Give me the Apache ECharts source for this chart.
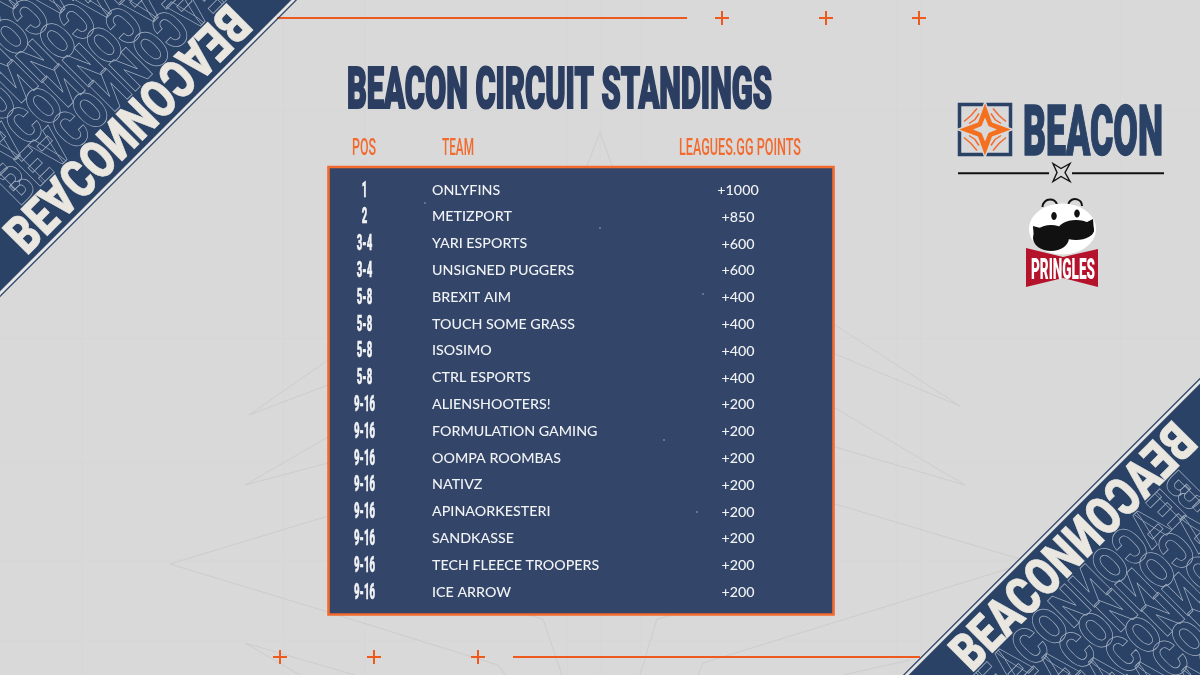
<!DOCTYPE html>
<html>
<head>
<meta charset="utf-8">
<style>html,body{margin:0;padding:0;background:#d9d9d9}#chart{width:1200px;height:675px}</style>
<script src="https://cdn.jsdelivr.net/npm/echarts@6/dist/echarts.min.js"></script>
</head>
<body>
<div id="chart"></div>
<script>
const chartTitle = "BEACON CIRCUIT STANDINGS";
const columnHeaders = ["POS", "TEAM", "LEAGUES.GG POINTS"];
const posLabels = ["1", "2", "3-4", "3-4", "5-8", "5-8", "5-8", "5-8", "9-16", "9-16", "9-16", "9-16", "9-16", "9-16", "9-16", "9-16"];
const teams = ["ONLYFINS", "METIZPORT", "YARI ESPORTS", "UNSIGNED PUGGERS", "BREXIT AIM", "TOUCH SOME GRASS", "ISOSIMO", "CTRL ESPORTS", "ALIENSHOOTERS!", "FORMULATION GAMING", "OOMPA ROOMBAS", "NATIVZ", "APINAORKESTERI", "SANDKASSE", "TECH FLEECE TROOPERS", "ICE ARROW"];
const points = [1000, 850, 600, 600, 400, 400, 400, 400, 200, 200, 200, 200, 200, 200, 200, 200];

const NAVY = "#2a4266";
const PANEL = "#33466a";
const TITLE_NAVY = "#2b3d60";
const ORANGE = "#f26a2e";
const LINE_ORANGE = "#ee5a1e";
const BG = "#d9d9d9";
const FAINT = "#cdcdcd";
const CREAM = "#e9e7e0";
const HEAVY = "Roboto";

// measure text so the condensed display type can be squeezed to width
const measureCtx = document.createElement("canvas").getContext("2d");
function fitScale(text, font, width) {
  measureCtx.font = font;
  return width / measureCtx.measureText(text).width;
}

// midY is the centre of the capitals, "middle" alone sits a bit too high
function fitText(text, left, midY, width, size, family, weight, fill, extra) {
  const scaleX = fitScale(text, `${weight} ${size}px ${family}`, width);
  return {
    type: "text",
    x: left,
    y: midY + size * 0.12,
    scaleX: scaleX,
    style: Object.assign({
      text: text,
      fontFamily: family,
      fontWeight: weight,
      fontSize: size,
      fill: fill,
      align: "left",
      verticalAlign: "middle",
      textAlign: "left",
      textVerticalAlign: "middle"
    }, extra || {})
  };
}

function line(x1, y1, x2, y2, stroke, width) {
  return { type: "line", shape: { x1, y1, x2, y2 }, style: { stroke, lineWidth: width } };
}

function polyline(pts, stroke, width) {
  return { type: "polyline", shape: { points: pts }, style: { stroke, lineWidth: width, fill: "none" } };
}

function plus(cx, cy) {
  return [
    line(cx - 7, cy, cx + 7, cy, LINE_ORANGE, 2),
    line(cx, cy - 7, cx, cy + 7, LINE_ORANGE, 2)
  ];
}

// faint grid and the big compass star behind everything
function backgroundLines() {
  const out = [];
  [82, 283, 365, 567, 600, 640, 896, 921, 1120].forEach(x => out.push(line(x, 0, x, 675, "#d6d6d6", 1)));
  [110, 338, 462, 560, 640].forEach(y => out.push(line(0, y, 1200, y, "#d6d6d6", 1)));
  const star = [
    [[587, 166], [600, 132], [612, 166]],
    [[328, 360], [249, 415], [328, 385]],
    [[328, 437], [245, 485], [328, 463]],
    [[328, 516], [170, 564], [328, 612], [498, 665], [505, 675]],
    [[355, 675], [245, 643], [300, 675]],
    [[835, 325], [960, 406], [835, 354]],
    [[835, 408], [965, 485], [835, 447]],
    [[835, 504], [1030, 562], [703, 663], [698, 675]],
    [[910, 660], [843, 675]],
    [[528, 615], [543, 619], [562, 675]],
    [[673, 615], [657, 619], [640, 675]]
  ];
  star.forEach(pts => out.push(polyline(pts, FAINT, 1)));
  return out;
}

// local x runs along the diagonal, local y away from the grey side
function bannerGroup() {
  const children = [
    { type: "rect", shape: { x: -440, y: 4, width: 460, height: 240 }, style: { fill: NAVY } },
    line(-440, 0.5, 20, 0.5, NAVY, 1.2),
    line(-440, 2.5, 20, 2.5, "#eeeeee", 1)
  ];
  const word = "BEACON";
  const size = 53;
  const w = 161;
  const outline = { fill: "none", stroke: "#a5b1c2", lineWidth: 0.8 };
  const rowsY = [68, 104, 140, 176, 212];
  rowsY.forEach((y, r) => {
    for (let k = -1; k < 2; k++) {
      const start = -400 + r * 30 + k * 350;
      children.push(fitText(word, start, y, w, size, HEAVY, 900, "none", outline));
      const mirrored = fitText(word, start + 2 * w, y, w, size, HEAVY, 900, "none", outline);
      mirrored.scaleX = -mirrored.scaleX;
      children.push(mirrored);
    }
  });
  const bright = { stroke: CREAM, lineWidth: 0.6 };
  [-370, -775, -5].forEach(start => {
    children.push(fitText(word, start, 28, w, size, HEAVY, 900, CREAM, bright));
    const mirrored = fitText(word, start + 2 * w, 28, w, size, HEAVY, 900, CREAM, bright);
    mirrored.scaleX = -mirrored.scaleX;
    children.push(mirrored);
  });
  return { type: "group", x: 1200, y: 378, rotation: Math.PI / 4, children };
}

function beaconLogo() {
  const cx = 985, cy = 129.5;
  const out = [
    { type: "rect", shape: { x: 959.5, y: 104.5, width: 51, height: 50 }, style: { fill: "none", stroke: NAVY, lineWidth: 3.5 } },
    { type: "polygon", shape: { points: [[cx, cy - 30], [cx + 8, cy - 8], [cx + 30, cy], [cx + 8, cy + 8], [cx, cy + 30], [cx - 8, cy + 8], [cx - 30, cy], [cx - 8, cy - 8]] }, style: { fill: BG } }
  ];
  [[-1, -1], [1, -1], [1, 1], [-1, 1]].forEach(([sx, sy]) => {
    out.push(polyline([[cx + sx * 6, cy + sy * 16], [cx + sx * 10, cy + sy * 10], [cx + sx * 16, cy + sy * 6]], "#f26a2e", 1.5));
    out.push(polyline([[cx + sx * 8, cy + sy * 21], [cx + sx * 14, cy + sy * 14], [cx + sx * 21, cy + sy * 8]], "#f26a2e", 1.5));
  });
  out.push({ type: "polygon", shape: { points: [[cx, cy - 26], [cx + 7, cy - 7], [cx + 26, cy], [cx + 7, cy + 7], [cx, cy + 26], [cx - 7, cy + 7], [cx - 26, cy], [cx - 7, cy - 7]] }, style: { fill: "#f4701f" } });
  out.push({ type: "polygon", shape: { points: [[cx, cy - 12], [cx + 3.5, cy - 3.5], [cx + 12, cy], [cx + 3.5, cy + 3.5], [cx, cy + 12], [cx - 3.5, cy + 3.5], [cx - 12, cy], [cx - 3.5, cy - 3.5]] }, style: { fill: BG } });
  out.push(fitText("BEACON", 1023, 129, 140, 71, HEAVY, 900, NAVY, { stroke: NAVY, lineWidth: 1.6 }));
  out.push(line(958, 173.3, 1049, 173.3, "#111", 2));
  out.push(line(1072, 173.3, 1164, 173.3, "#111", 2));
  const sx = 1061, sy = 172.5;
  out.push({ type: "polygon", shape: { points: [[sx - 8, sy - 9], [sx, sy - 4], [sx + 9, sy - 9], [sx + 4, sy], [sx + 9, sy + 9], [sx, sy + 4], [sx - 8, sy + 9], [sx - 4, sy]] }, style: { fill: "none", stroke: "#111", lineWidth: 1.4 } });
  return out;
}

function pringlesLogo() {
  return [
    { type: "arc", shape: { cx: 1050, cy: 207, r: 7.5, startAngle: Math.PI, endAngle: Math.PI * 1.9 }, style: { stroke: "#111", lineWidth: 2, fill: "none" } },
    { type: "arc", shape: { cx: 1075, cy: 206, r: 7, startAngle: Math.PI * 1.1, endAngle: Math.PI * 2 }, style: { stroke: "#111", lineWidth: 2, fill: "none" } },
    { type: "ellipse", shape: { cx: 1062.5, cy: 229, rx: 33.5, ry: 25.5 }, style: { fill: "#fff" } },
    { type: "ellipse", shape: { cx: 1054, cy: 216, rx: 2.8, ry: 4 }, style: { fill: "#111" } },
    { type: "ellipse", shape: { cx: 1077, cy: 213.5, rx: 2.8, ry: 4 }, style: { fill: "#111" } },
    { type: "ellipse", shape: { cx: 1051, cy: 238, rx: 18, ry: 13 }, style: { fill: "#111" } },
    { type: "ellipse", shape: { cx: 1076, cy: 230, rx: 18, ry: 10 }, style: { fill: "#111" } },
    { type: "polygon", shape: { points: [[1033, 226], [1044, 229], [1034, 240]] }, style: { fill: "#111" } },
    { type: "polygon", shape: { points: [[1093, 219], [1094, 232], [1083, 224]] }, style: { fill: "#111" } },
    { type: "polygon", shape: { points: [[1026, 248], [1063, 257], [1098, 249], [1098, 287], [1063, 278], [1026, 287]] }, style: { fill: "#b5122b" } },
    fitText("PRINGLES", 1031, 267.5, 64, 30, HEAVY, 900, "#fff")
  ];
}

const panelSpecks = [[600, 228], [703, 294], [425, 203], [697, 512], [664, 440]].map(([x, y]) => ({
  type: "circle", shape: { cx: x, cy: y, r: 0.8 }, style: { fill: "#9fb0c8" }
}));

const graphicElements = [
  ...backgroundLines(),
  line(277, 18, 687, 18, LINE_ORANGE, 2),
  ...plus(722, 18), ...plus(826, 18), ...plus(919, 18),
  line(513, 657, 920, 657, LINE_ORANGE, 2),
  ...plus(280, 657), ...plus(374, 657), ...plus(478, 657),
  bannerGroup(),
  { type: "group", x: 1200, y: 675, rotation: Math.PI, children: [bannerGroup()] },
  fitText(chartTitle, 347, 87, 425, 58, HEAVY, 900, TITLE_NAVY, { stroke: TITLE_NAVY, lineWidth: 2.2 }),
  fitText(columnHeaders[0], 352, 146, 24, 24, "Roboto", 500, ORANGE),
  fitText(columnHeaders[1], 442, 146, 32, 24, "Roboto", 500, ORANGE),
  fitText(columnHeaders[2], 679, 146, 122, 24, "Roboto", 500, ORANGE),
  { type: "rect", shape: { x: 328.5, y: 167, width: 505, height: 447.5 }, style: { fill: PANEL, stroke: ORANGE, lineWidth: 2.6 } },
  ...panelSpecks,
  ...beaconLogo(),
  ...pringlesLogo()
];

const POS_X = 364.5;
const TEAM_X = 432;
const POINTS_X = 738;
const teamFont = "500 14px Lato";
const teamScale = fitScale("TOUCH SOME GRASS", teamFont, 143);
const posFont = "900 22px Roboto";
const posScale = fitScale("9-16", posFont, 21);

const chart = echarts.init(document.getElementById("chart"), null, { renderer: "canvas" });
chart.setOption({
  animation: false,
  backgroundColor: BG,
  graphic: { elements: graphicElements },
  grid: { left: 0, top: 176.6, width: 1200, height: 428.8 },
  xAxis: { type: "value", min: 0, max: 1200, show: false },
  yAxis: { type: "category", inverse: true, data: teams, show: false },
  series: [
    {
      type: "custom",
      z: 10,
      silent: true,
      encode: { y: 0 },
      data: teams.map(t => [t]),
      renderItem: (params, api) => {
        const i = params.dataIndex;
        const y = api.coord([0, i])[1];
        const shared = { fill: "#f1f2f4", verticalAlign: "middle", textVerticalAlign: "middle" };
        return {
          type: "group",
          children: [
            {
              type: "text",
              x: POS_X, y: y + 1, scaleX: posScale,
              style: Object.assign({}, shared, { text: posLabels[i], font: posFont, align: "center", textAlign: "center", stroke: "#f1f2f4", lineWidth: 0.5 })
            },
            {
              type: "text",
              x: TEAM_X, y: y, scaleX: teamScale,
              style: Object.assign({}, shared, { text: teams[i], font: teamFont, align: "left", textAlign: "left" })
            },
            {
              type: "text",
              x: POINTS_X, y: y + 0.5, scaleX: teamScale,
              style: Object.assign({}, shared, { text: "+" + points[i], font: teamFont, align: "center", textAlign: "center" })
            }
          ]
        };
      }
    }
  ]
});
</script>
</body>
</html>
